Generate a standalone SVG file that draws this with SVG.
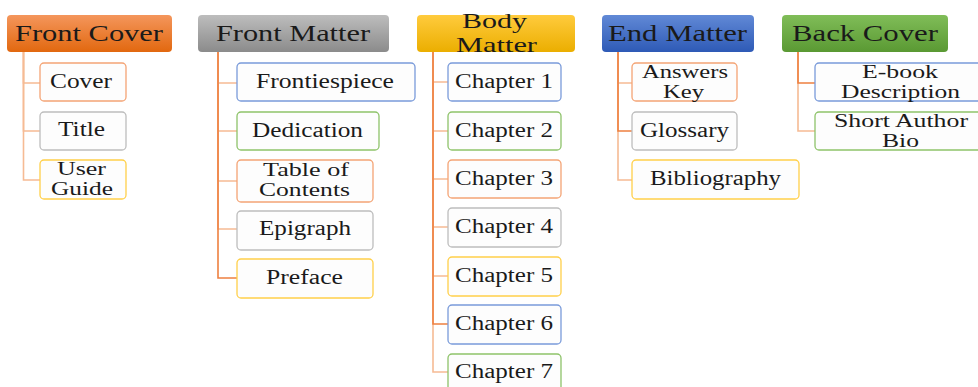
<svg xmlns="http://www.w3.org/2000/svg" width="978" height="387" viewBox="0 0 978 387">
<defs>
<linearGradient id="gOrange" x1="0" y1="0" x2="0" y2="1"><stop offset="0" stop-color="#F4965C"/><stop offset="1" stop-color="#E2680F"/></linearGradient>
<linearGradient id="gGray" x1="0" y1="0" x2="0" y2="1"><stop offset="0" stop-color="#BDBDBD"/><stop offset="1" stop-color="#8B8B8B"/></linearGradient>
<linearGradient id="gYellow" x1="0" y1="0" x2="0" y2="1"><stop offset="0" stop-color="#FFCB3D"/><stop offset="1" stop-color="#EBAE00"/></linearGradient>
<linearGradient id="gBlue" x1="0" y1="0" x2="0" y2="1"><stop offset="0" stop-color="#6189D6"/><stop offset="1" stop-color="#2E5AB6"/></linearGradient>
<linearGradient id="gGreen" x1="0" y1="0" x2="0" y2="1"><stop offset="0" stop-color="#80BD58"/><stop offset="1" stop-color="#5A9933"/></linearGradient>
</defs>
<style>
text{font-family:"Liberation Serif","Times New Roman",serif;fill:#1a1a1a}
.h{font-size:24px}
.h2{font-size:21px}
.c{font-size:20px}
.c2{font-size:18px}
.box{fill:#FDFDFD;stroke-width:1.3}
.o{stroke:#F4A475}
.g{stroke:#BDBDBD}
.y{stroke:#FFD04A}
.b{stroke:#7A9BDA}
.gr{stroke:#8EC36A}
.lt{fill:none;stroke:#F6BB94;stroke-width:1.6}
.dk{fill:none;stroke:#EE8040;stroke-width:1.6}
</style>
<rect width="978" height="387" fill="#FFFFFF"/>

<g id="connectors">
  <path class="lt" d="M23.5 52 V83 H40"/>
  <path class="lt" d="M23.5 52 V131 H40"/>
  <path class="lt" d="M23.5 52 V180 H40"/>

  <path class="lt" d="M218 52 V83 H237"/>
  <path class="lt" d="M218 52 V131 H237"/>
  <path class="lt" d="M218 52 V181 H237"/>
  <path class="lt" d="M218 52 V229 H237"/>
  <path class="dk" d="M218 52 V278 H237"/>

  <path class="lt" d="M433 52 V82 H448"/>
  <path class="lt" d="M433 52 V131 H448"/>
  <path class="lt" d="M433 52 V179 H448"/>
  <path class="lt" d="M433 52 V227 H448"/>
  <path class="lt" d="M433 52 V276 H448"/>
  <path class="lt" d="M433 52 V372 H448"/>
  <path class="dk" d="M433 52 V324 H448"/>

  <path class="lt" d="M618 52 V180 H632"/>
  <path class="lt" d="M618 52 V83 H632"/>
  <path class="dk" d="M618 52 V131 H632"/>

  <path class="lt" d="M798 52 V131 H815"/>
  <path class="dk" d="M798 52 V83 H815"/>
</g>

<g id="front-cover">
  <rect x="7" y="15" width="165" height="37" rx="4" fill="url(#gOrange)"/>
  <text class="h" x="15" y="41" textLength="148" lengthAdjust="spacingAndGlyphs">Front Cover</text>
</g>
<g id="cover">
  <rect class="box o" x="40" y="63" width="86" height="38" rx="4"/>
  <text class="c" x="50" y="88" textLength="62" lengthAdjust="spacingAndGlyphs">Cover</text>
</g>
<g id="title">
  <rect class="box g" x="40" y="112" width="86" height="38" rx="4"/>
  <text class="c" x="58" y="136" textLength="47" lengthAdjust="spacingAndGlyphs">Title</text>
</g>
<g id="user-guide">
  <rect class="box y" x="40" y="160" width="86" height="39" rx="4"/>
  <text class="c2" x="57" y="175" textLength="49" lengthAdjust="spacingAndGlyphs">User</text>
  <text class="c2" x="51" y="195" textLength="62" lengthAdjust="spacingAndGlyphs">Guide</text>
</g>

<g id="front-matter">
  <rect x="198" y="15" width="191" height="37" rx="4" fill="url(#gGray)"/>
  <text class="h" x="216" y="41" textLength="154" lengthAdjust="spacingAndGlyphs">Front Matter</text>
</g>
<g id="frontiespiece">
  <rect class="box b" x="237" y="63" width="178" height="38" rx="4"/>
  <text class="c" x="256" y="88" textLength="138" lengthAdjust="spacingAndGlyphs">Frontiespiece</text>
</g>
<g id="dedication">
  <rect class="box gr" x="237" y="112" width="142" height="38" rx="4"/>
  <text class="c" x="252" y="137" textLength="111" lengthAdjust="spacingAndGlyphs">Dedication</text>
</g>
<g id="table-of-contents">
  <rect class="box o" x="237" y="160" width="136" height="42" rx="4"/>
  <text class="c2" x="263" y="176" textLength="86" lengthAdjust="spacingAndGlyphs">Table of</text>
  <text class="c2" x="259" y="196" textLength="91" lengthAdjust="spacingAndGlyphs">Contents</text>
</g>
<g id="epigraph">
  <rect class="box g" x="237" y="211" width="136" height="39" rx="4"/>
  <text class="c" x="259" y="235" textLength="92" lengthAdjust="spacingAndGlyphs">Epigraph</text>
</g>
<g id="preface">
  <rect class="box y" x="237" y="259" width="136" height="39" rx="4"/>
  <text class="c" x="266" y="284" textLength="77" lengthAdjust="spacingAndGlyphs">Preface</text>
</g>

<g id="body-matter">
  <rect x="417" y="15" width="158" height="37" rx="4" fill="url(#gYellow)"/>
  <text class="h2" x="462" y="28" textLength="65" lengthAdjust="spacingAndGlyphs">Body</text>
  <text class="h2" x="456" y="52" textLength="81" lengthAdjust="spacingAndGlyphs">Matter</text>
</g>
<g id="chapter-1">
  <rect class="box b" x="448" y="63" width="113" height="38" rx="4"/>
  <text class="c" x="455" y="88" textLength="98" lengthAdjust="spacingAndGlyphs">Chapter 1</text>
</g>
<g id="chapter-2">
  <rect class="box gr" x="448" y="112" width="113" height="38" rx="4"/>
  <text class="c" x="455" y="137" textLength="98" lengthAdjust="spacingAndGlyphs">Chapter 2</text>
</g>
<g id="chapter-3">
  <rect class="box o" x="448" y="160" width="113" height="38" rx="4"/>
  <text class="c" x="455" y="185" textLength="98" lengthAdjust="spacingAndGlyphs">Chapter 3</text>
</g>
<g id="chapter-4">
  <rect class="box g" x="448" y="208" width="113" height="39" rx="4"/>
  <text class="c" x="455" y="233" textLength="98" lengthAdjust="spacingAndGlyphs">Chapter 4</text>
</g>
<g id="chapter-5">
  <rect class="box y" x="448" y="257" width="113" height="39" rx="4"/>
  <text class="c" x="455" y="282" textLength="98" lengthAdjust="spacingAndGlyphs">Chapter 5</text>
</g>
<g id="chapter-6">
  <rect class="box b" x="448" y="305" width="113" height="39" rx="4"/>
  <text class="c" x="455" y="330" textLength="98" lengthAdjust="spacingAndGlyphs">Chapter 6</text>
</g>
<g id="chapter-7">
  <rect class="box gr" x="448" y="354" width="113" height="40" rx="4"/>
  <text class="c" x="455" y="378" textLength="98" lengthAdjust="spacingAndGlyphs">Chapter 7</text>
</g>

<g id="end-matter">
  <rect x="602" y="15" width="152" height="37" rx="4" fill="url(#gBlue)"/>
  <text class="h" x="608" y="41" textLength="139" lengthAdjust="spacingAndGlyphs">End Matter</text>
</g>
<g id="answers-key">
  <rect class="box o" x="632" y="63" width="105" height="38" rx="4"/>
  <text class="c2" x="642" y="78" textLength="86" lengthAdjust="spacingAndGlyphs">Answers</text>
  <text class="c2" x="663" y="98" textLength="41" lengthAdjust="spacingAndGlyphs">Key</text>
</g>
<g id="glossary">
  <rect class="box g" x="632" y="112" width="105" height="38" rx="4"/>
  <text class="c" x="640" y="137" textLength="89" lengthAdjust="spacingAndGlyphs">Glossary</text>
</g>
<g id="bibliography">
  <rect class="box y" x="632" y="160" width="167" height="39" rx="4"/>
  <text class="c" x="650" y="185" textLength="131" lengthAdjust="spacingAndGlyphs">Bibliography</text>
</g>

<g id="back-cover">
  <rect x="782" y="15" width="166" height="37" rx="4" fill="url(#gGreen)"/>
  <text class="h" x="792" y="41" textLength="146" lengthAdjust="spacingAndGlyphs">Back Cover</text>
</g>
<g id="ebook-description">
  <rect class="box b" x="815" y="63" width="170" height="38" rx="4"/>
  <text class="c2" x="862" y="78" textLength="76" lengthAdjust="spacingAndGlyphs">E-book</text>
  <text class="c2" x="841" y="98" textLength="119" lengthAdjust="spacingAndGlyphs">Description</text>
</g>
<g id="short-author-bio">
  <rect class="box gr" x="815" y="112" width="170" height="38" rx="4"/>
  <text class="c2" x="834" y="127" textLength="134" lengthAdjust="spacingAndGlyphs">Short Author</text>
  <text class="c2" x="882" y="147" textLength="37" lengthAdjust="spacingAndGlyphs">Bio</text>
</g>
</svg>
